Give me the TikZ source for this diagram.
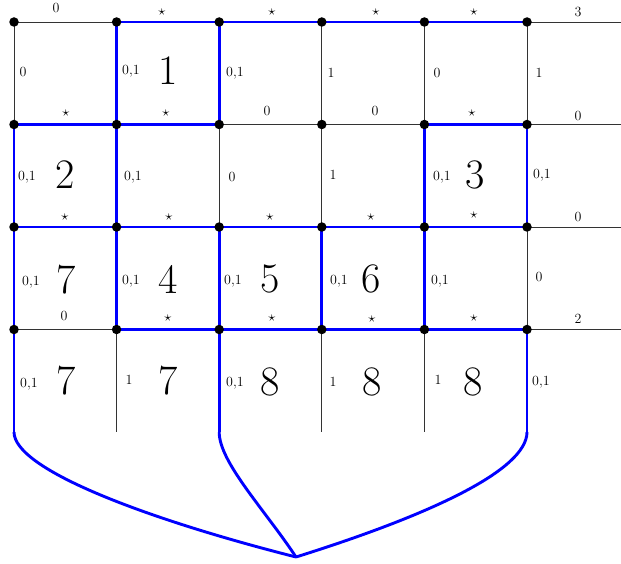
\documentclass[tikz,border=0pt]{standalone}
\begin{document}
\begin{tikzpicture}[x=1pt,y=-1pt,
  gline/.style={black!80, line width=0.8pt},
  bpath/.style={blue, line width=2.9pt, line join=round},
  dot/.style={circle, fill=black, inner sep=0pt, minimum size=9.5pt},
  lab/.style={font=\fontsize{14}{14}\selectfont, inner sep=0pt},
  big/.style={font=\fontsize{42}{42}\selectfont, inner sep=0pt}]
\useasboundingbox (0,0) rectangle (621,564);
% grid points
\foreach \c [count=\i from 0] in {14,116.6,219.2,321.8,424.4,527} {
  \foreach \r [count=\j from 0] in {22,124.5,227,329.5} {
    \coordinate (p-\j-\i) at (\c,\r);
  }
  \coordinate (b-\i) at (\c,432);
}
\foreach \r [count=\j from 0] in {22,124.5,227,329.5} {
  \coordinate (e-\j) at (621,\r);
}
\coordinate (tip) at (296,557);
% thin grid
\foreach \j in {0,1,2,3} { \draw[gline] (p-\j-0) -- (e-\j); }
\foreach \i in {0,...,5} { \draw[gline] (p-0-\i) -- (b-\i); }
% blue path
\draw[bpath] (p-0-1) -- (p-0-5);
\draw[bpath] (p-1-0) -- (p-1-2);
\draw[bpath] (p-1-4) -- (p-1-5);
\draw[bpath] (p-2-0) -- (p-2-5);
\draw[bpath] (p-3-1) -- (p-3-5);
\draw[bpath] (p-1-0) -- (b-0);
\draw[bpath] (p-0-1) -- (p-3-1);
\draw[bpath] (p-0-2) -- (p-1-2);
\draw[bpath] (p-2-2) -- (b-2);
\draw[bpath] (p-2-3) -- (p-3-3);
\draw[bpath] (p-1-4) -- (p-3-4);
\draw[bpath] (p-1-5) -- (p-2-5);
\draw[bpath] (p-3-5) -- (b-5);
\draw[bpath] (b-0) .. controls (14,470) and (150,520) .. (tip);
\draw[bpath] (b-2) .. controls (219,462) and (265,510) .. (tip);
\draw[bpath] (b-5) .. controls (527,470) and (430,515) .. (tip);
% dots
\foreach \i in {0,...,5} { \foreach \j in {0,1,2,3} {
  \node[dot] (d-\j-\i) at (p-\j-\i) {};
}}
% horizontal edge labels
\foreach \x/\y/\t [count=\k] in {
  56/8/0, 162/12/$\star$, 272/12/$\star$, 376/12/$\star$, 474/12/$\star$, 578/12/3,
  66/113/$\star$, 166/113/$\star$, 267/111/0, 375/111/0, 472/113/$\star$, 578/116/0,
  65/217/$\star$, 169/217/$\star$, 270/217/$\star$, 371/217/$\star$, 474/215/$\star$, 578/217/0,
  64/316/0, 168/318/$\star$, 272/318/$\star$, 372/319/$\star$, 474/318/$\star$, 578/319/2} {
  \node[lab] (h-\k) at (\x,\y) {\t};
}
% vertical edge labels
\foreach \x/\y/\t [count=\k] in {
  23/72/0, 131/71/{0,1}, 235/73/{0,1}, 331/73/1, 437/73/0, 539/73/1,
  27/177/{0,1}, 133/177/{0,1}, 232/177/0, 333/175/1, 442/177/{0,1}, 542/175/{0,1},
  31/282/{0,1}, 131/281/{0,1}, 233/281/{0,1}, 339/281/{0,1}, 440/281/{0,1}, 539/277/0,
  29/384/{0,1}, 129/380/1, 235/383/{0,1}, 333/382/1, 438/380/1, 541/382/{0,1}} {
  \node[lab] (v-\k) at (\x,\y) {\t};
}
% big numbers
\foreach \x/\y/\t [count=\k] in {
  168/71/1, 65/175/2, 475/175/3,
  66/280/7, 168/279/4, 270/279/5, 371/279/6,
  66/381/7, 168/381/7, 270/382/8, 372/382/8, 473/382/8} {
  \node[big] (n-\k) at (\x,\y) {\t};
}
\end{tikzpicture}
\end{document}
